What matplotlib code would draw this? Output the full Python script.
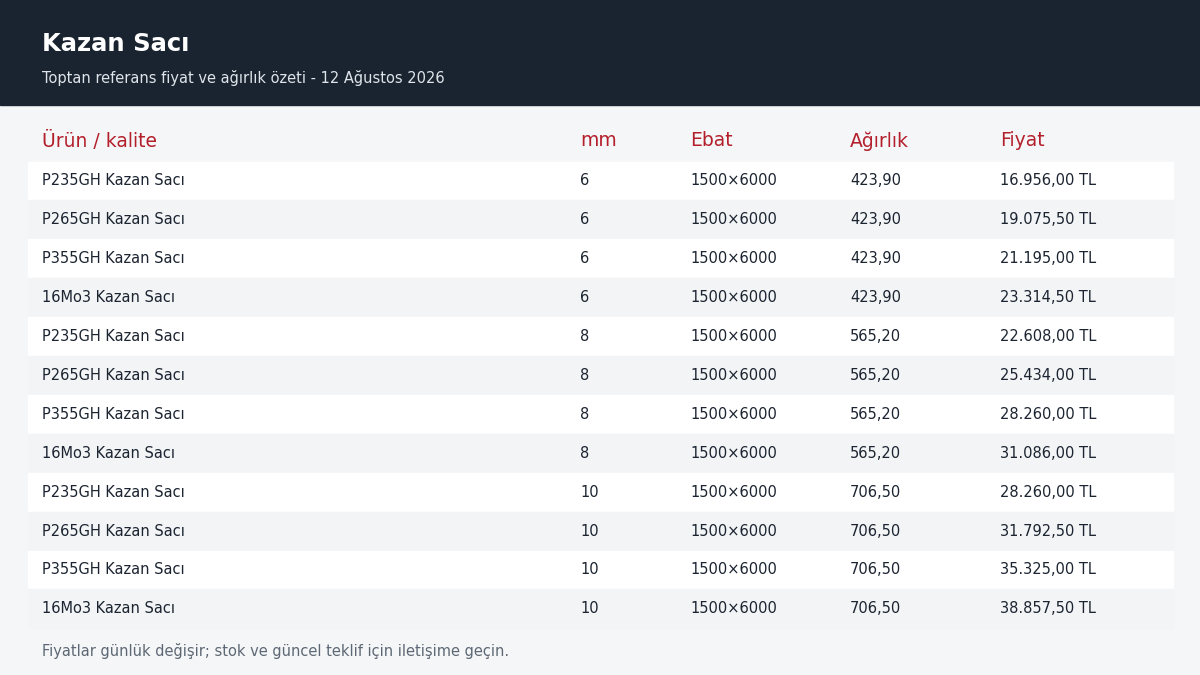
import matplotlib.pyplot as plt
from matplotlib.patches import Rectangle

plt.rcParams['font.family'] = ['DejaVu Sans']

title = "Kazan Sacı"
subtitle = "Toptan referans fiyat ve ağırlık özeti - 12 Ağustos 2026"
columns = ["Ürün / kalite", "mm", "Ebat", "Ağırlık", "Fiyat"]
products = ["P235GH Kazan Sacı", "P265GH Kazan Sacı", "P355GH Kazan Sacı", "16Mo3 Kazan Sacı"] * 3
thickness = ["6"] * 4 + ["8"] * 4 + ["10"] * 4
sizes = ["1500×6000"] * 12
weights = ["423,90"] * 4 + ["565,20"] * 4 + ["706,50"] * 4
prices = ["16.956,00 TL", "19.075,50 TL", "21.195,00 TL", "23.314,50 TL",
          "22.608,00 TL", "25.434,00 TL", "28.260,00 TL", "31.086,00 TL",
          "28.260,00 TL", "31.792,50 TL", "35.325,00 TL", "38.857,50 TL"]
footer = "Fiyatlar günlük değişir; stok ve güncel teklif için iletişime geçin."

col_x = [42, 580, 690, 850, 1000]

fig = plt.figure(figsize=(12, 6.75), dpi=100)
fig.patch.set_facecolor('#f5f6f8')
ax = fig.add_axes([0, 0, 1, 1])
ax.set_xlim(0, 1200)
ax.set_ylim(675, 0)
ax.axis('off')

# header band
ax.add_patch(Rectangle((0, 0), 1200, 105, color='#1a2430'))
ax.text(42, 44, title, color='white', fontsize=17.5, fontweight='bold', va='center')
ax.text(42, 78, subtitle, color='#dfe4ea', fontsize=10.5, va='center')

# column headers
for x, c in zip(col_x, columns):
    ax.text(x, 141, c, color='#b3202c', fontsize=13.5, va='center')

# rows
row_h = 38.9
top = 161.5
for i in range(len(products)):
    y0 = top + i * row_h
    fc = 'white' if i % 2 == 0 else '#f2f4f6'
    ax.add_patch(Rectangle((28, y0), 1145, row_h, color=fc))
    yc = y0 + row_h / 2
    vals = [products[i], thickness[i], sizes[i], weights[i], prices[i]]
    for x, v in zip(col_x, vals):
        ax.text(x, yc, v, color='#1b2430', fontsize=10.5, va='center')

ax.text(42, 651, footer, color='#5d6874', fontsize=10.5, va='center')

fig.savefig('out.png', dpi=100, facecolor=fig.get_facecolor())
